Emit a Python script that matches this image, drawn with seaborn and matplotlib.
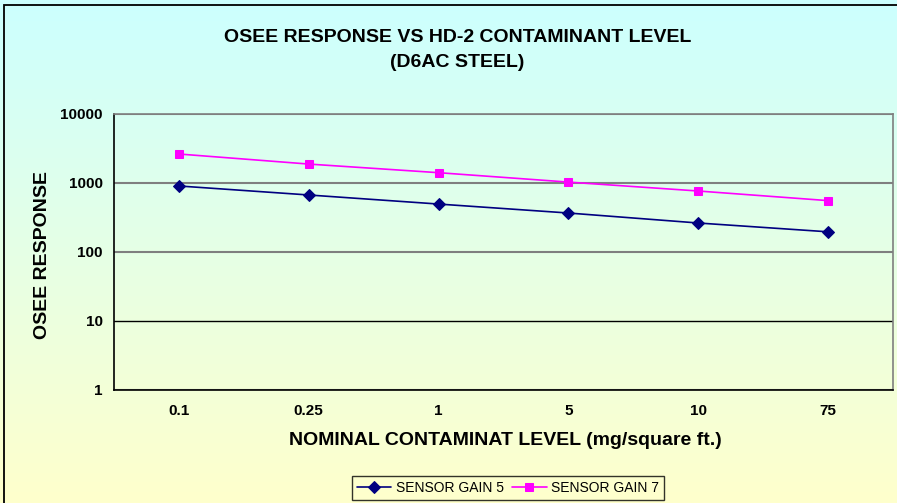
import matplotlib.pyplot as plt
import matplotlib.colors as mcolors
import numpy as np
import seaborn as sns

levels = ["0.1", "0.25", "1", "5", "10", "75"]
gain_5 = [905, 670, 495, 367, 263, 196]
gain_7 = [2630, 1880, 1410, 1030, 765, 555]

sns.set_style("white")
plt.rcParams["font.family"] = ["Liberation Sans", "DejaVu Sans"]
plt.rcParams["text.color"] = "black"
plt.rcParams["xtick.color"] = "black"
plt.rcParams["ytick.color"] = "black"

fig = plt.figure(figsize=(8.97, 5.03), dpi=100)

# background gradient for the whole chart area
bg = fig.add_axes([0, 0, 1, 1], zorder=0)
cmap = mcolors.LinearSegmentedColormap.from_list("bg", ["#ccffff", "#ffffcc"])
bg.imshow(np.linspace(0, 1, 256).reshape(-1, 1), aspect="auto", cmap=cmap,
          extent=[0, 1, 0, 1])
bg.set_xlim(0, 1)
bg.set_ylim(0, 1)
bg.add_patch(plt.Rectangle((4 / 897, -0.1), 1.2, 1 - 5 / 503 + 0.1,
                           fill=False, edgecolor="black", lw=1.3))
bg.axis("off")

ax = fig.add_axes([0.127, 0.2247, 0.8685, 0.5487], zorder=1)
ax.set_facecolor("none")

sns.lineplot(x=levels, y=gain_5, ax=ax, color="#000080", marker="D",
             markersize=6, markeredgecolor="#000080", lw=1.2,
             label="SENSOR GAIN 5")
sns.lineplot(x=levels, y=gain_7, ax=ax, color="#ff00ff", marker="s",
             markersize=6, markeredgecolor="#ff00ff", lw=1.2,
             label="SENSOR GAIN 7")

ax.set_yscale("log")
ax.set_ylim(1, 10000)
ax.set_xlim(-0.5, len(levels) - 0.5)
ax.set_yticks([1, 10, 100, 1000, 10000])
ax.set_yticklabels(["1", "10", "100", "1000", "10000"])
ax.minorticks_off()
ax.set_xticks(range(len(levels)))
ax.set_xticklabels(levels)
ax.set_xticks(np.arange(-0.5, len(levels), 1), minor=True)

ax.tick_params(axis="y", which="major", direction="out", length=5, width=1,
               color="black", labelsize=11, pad=3)
ax.tick_params(axis="x", which="major", length=0, labelsize=11, pad=10)
ax.tick_params(axis="x", which="minor", direction="out", length=5, width=1,
               color="black")
for lab in ax.get_xticklabels() + ax.get_yticklabels():
    lab.set_fontweight("bold")

ax.grid(axis="y", which="major", color="#7f7f7f", lw=1.5)
for val, gl in zip(ax.get_yticks(), ax.yaxis.get_gridlines()):
    if val == 10:
        gl.set_color("black")
        gl.set_linewidth(1)
ax.set_axisbelow(True)

ax.spines["left"].set_color("black")
ax.spines["bottom"].set_color("black")
ax.spines["top"].set_color("#7f7f7f")
ax.spines["right"].set_color("#7f7f7f")
for s in ax.spines.values():
    s.set_linewidth(1.2)

ax.set_xlabel("")
ax.set_ylabel("")
fig.text(0.51, 0.9006, "OSEE RESPONSE VS HD-2 CONTAMINANT LEVEL\n(D6AC STEEL)",
         ha="center", va="center", fontsize=14, fontweight="bold",
         linespacing=1.55)
fig.text(0.563, 0.125, "NOMINAL CONTAMINAT LEVEL (mg/square ft.)",
         ha="center", va="center", fontsize=14, fontweight="bold")
fig.text(0.047, 0.493, "OSEE RESPONSE", ha="center", va="center",
         rotation=90, fontsize=14, fontweight="bold")

leg = ax.legend(loc="center", bbox_to_anchor=(0.566, 0.03),
                bbox_transform=fig.transFigure, ncol=2, fontsize=10,
                frameon=True, fancybox=False, facecolor="none",
                edgecolor="black", handlelength=2.5, columnspacing=0.6,
                handletextpad=0.3, borderpad=0.35)
leg.get_frame().set_linewidth(1)

fig.savefig("out.png", dpi=100)
